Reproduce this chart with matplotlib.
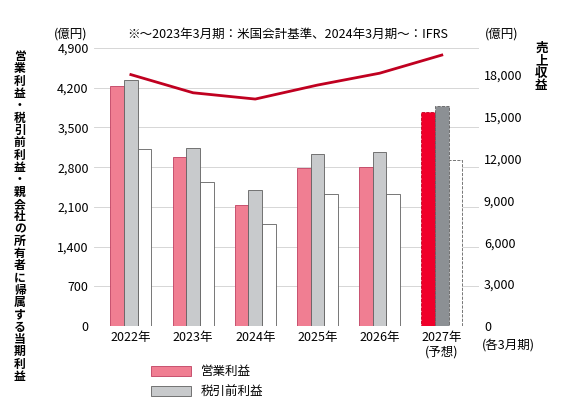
import matplotlib
matplotlib.use("Agg")
import matplotlib.pyplot as plt
import numpy as np

plt.rcParams['font.family'] = ['Noto Sans CJK JP', 'DejaVu Sans']

years = ['2022年', '2023年', '2024年', '2025年', '2026年', '2027年\n(予想)']
operating = [4230, 2980, 2140, 2790, 2810, 3780]
pretax = [4330, 3130, 2390, 3040, 3070, 3880]
net_income = [3120, 2540, 1800, 2330, 2330, 2920]
revenue = [18000, 16700, 16250, 17250, 18100, 19400]

fig = plt.figure(figsize=(5.67, 4.18), dpi=100)
ax = fig.add_axes([0.165, 0.22, 0.68, 0.665])
x = np.arange(len(years))
w = 0.22

for i in range(len(years)):
    last = i == len(years) - 1
    ls = '--' if last else '-'
    ax.bar(x[i] - w, operating[i], w, color='#f0002a' if last else '#f07e92',
           edgecolor='#c00020' if last else '#c04060', linewidth=0.6, linestyle=ls,
           label='営業利益' if i == 0 else None)
    ax.bar(x[i], pretax[i], w, color='#8c9094' if last else '#c8cacc',
           edgecolor='#606060', linewidth=0.6, linestyle=ls,
           label='税引前利益' if i == 0 else None)
    ax.bar(x[i] + w, net_income[i], w, color='white',
           edgecolor='#606060', linewidth=0.6, linestyle=ls)

ax.set_ylim(0, 4900)
ax.set_yticks(np.arange(0, 4901, 700))
ax.set_yticklabels([f'{v:,}' for v in range(0, 4901, 700)])
ax.set_xticks(x)
ax.set_xticklabels(years, fontsize=9)
ax.set_xlim(-0.6, len(years) - 0.4)
ax.grid(axis='y', color='#d0d0d0', linewidth=0.6)
ax.set_axisbelow(True)
for s in ax.spines.values():
    s.set_visible(False)
ax.tick_params(length=0, labelsize=9)

ax2 = ax.twinx()
ax2.plot(x, revenue, color='#c00020', linewidth=2)
ax2.set_ylim(0, 19900)
ax2.set_yticks(np.arange(0, 18001, 3000))
ax2.set_yticklabels([f'{v:,}' for v in range(0, 18001, 3000)])
for s in ax2.spines.values():
    s.set_visible(False)
ax2.tick_params(length=0, labelsize=9)

fig.text(0.095, 0.91, '(億円)', fontsize=9, ha='left')
fig.text(0.855, 0.91, '(億円)', fontsize=9, ha='left')
fig.text(0.225, 0.91, '※～2023年3月期：米国会計基準、2024年3月期～：IFRS', fontsize=9)
fig.text(0.035, 0.88, '\n'.join('営業利益・税引前利益・親会社の所有者に帰属する当期利益'),
         fontsize=8.5, fontweight='bold', va='top', ha='center', linespacing=0.93)
fig.text(0.955, 0.9, '\n'.join('売上収益'), fontsize=9, fontweight='bold', va='top',
         ha='center', linespacing=0.95)
fig.text(0.85, 0.165, '(各3月期)', fontsize=9)
ax.legend(loc='upper left', bbox_to_anchor=(0.12, -0.1), frameon=False, fontsize=9,
          handlelength=3.2, handleheight=0.8, labelspacing=0.6)

fig.savefig('out.png', dpi=100)
